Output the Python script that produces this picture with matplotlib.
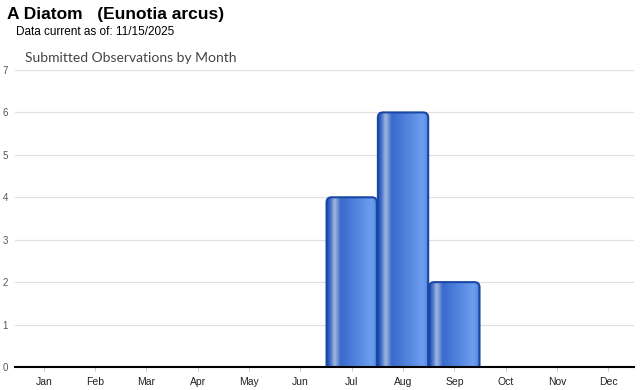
import matplotlib
matplotlib.use("Agg")
import matplotlib.pyplot as plt
import numpy as np
from matplotlib.patches import FancyBboxPatch
from matplotlib.colors import LinearSegmentedColormap

months = ["Jan", "Feb", "Mar", "Apr", "May", "Jun", "Jul", "Aug", "Sep", "Oct", "Nov", "Dec"]
counts = [0, 0, 0, 0, 0, 0, 4, 6, 2, 0, 0, 0]

title = "A Diatom   (Eunotia arcus)"
subtitle = "Data current as of: 11/15/2025"
chart_title = "Submitted Observations by Month"

plt.rcParams['font.family'] = ['Liberation Sans', 'DejaVu Sans']

fig = plt.figure(figsize=(6.4, 3.9), dpi=100)
ax = fig.add_axes([15 / 640, 23 / 390, 619 / 640, 297 / 390])

# cylinder-like shading across each bar
stops = [(0.0, "#2350b0"), (0.05, "#3564c6"), (0.15, "#a3b8de"), (0.27, "#3a6acb"),
         (0.88, "#6c9ef0"), (0.96, "#5a8ce4"), (1.0, "#1f4ca8")]
cmap = LinearSegmentedColormap.from_list("bar", stops)
grad = np.linspace(0, 1, 256).reshape(1, -1)

width = 0.98
for i, v in enumerate(counts):
    if v <= 0:
        continue
    x0 = i - width / 2
    box = FancyBboxPatch((x0, -0.5), width, v + 0.5,
                         boxstyle="round,pad=0,rounding_size=0.1",
                         mutation_aspect=1.2,
                         facecolor="none", edgecolor="#1a47a5", linewidth=1.5, zorder=3)
    ax.add_patch(box)
    im = ax.imshow(grad, cmap=cmap, aspect="auto", extent=(x0, x0 + width, -0.5, v),
                   zorder=2, interpolation="bilinear")
    im.set_clip_path(box)

ax.set_xlim(-0.56, 11.5)
ax.set_ylim(0, 7)
ax.set_yticks(range(0, 8))
ax.set_xticks(range(len(months)))
ax.set_xticklabels(months)
ax.grid(axis="y", color="#e0e0e0", linewidth=0.9, zorder=0)
ax.set_axisbelow(True)
for s in ["top", "right", "left"]:
    ax.spines[s].set_visible(False)
ax.spines["bottom"].set_color("black")
ax.spines["bottom"].set_linewidth(1.5)
ax.spines["bottom"].set_zorder(5)
ax.tick_params(axis="y", length=0, pad=5, labelsize=7, labelcolor="#555555")
ax.tick_params(axis="x", length=3, color="#cccccc", pad=4, labelsize=7.5, labelcolor="#222222")

fig.text(7 / 640, 1 - 15 / 390, title, fontsize=12.5, fontweight="bold", va="center", ha="left")
fig.text(16 / 640, 1 - 32 / 390, subtitle, fontsize=8.5, va="center", ha="left")
fig.text(25 / 640, 1 - 58 / 390, chart_title, fontsize=10, color="#444444", va="center", ha="left",
         family=["Lato", "DejaVu Sans"])

fig.savefig("out.png", dpi=100)
